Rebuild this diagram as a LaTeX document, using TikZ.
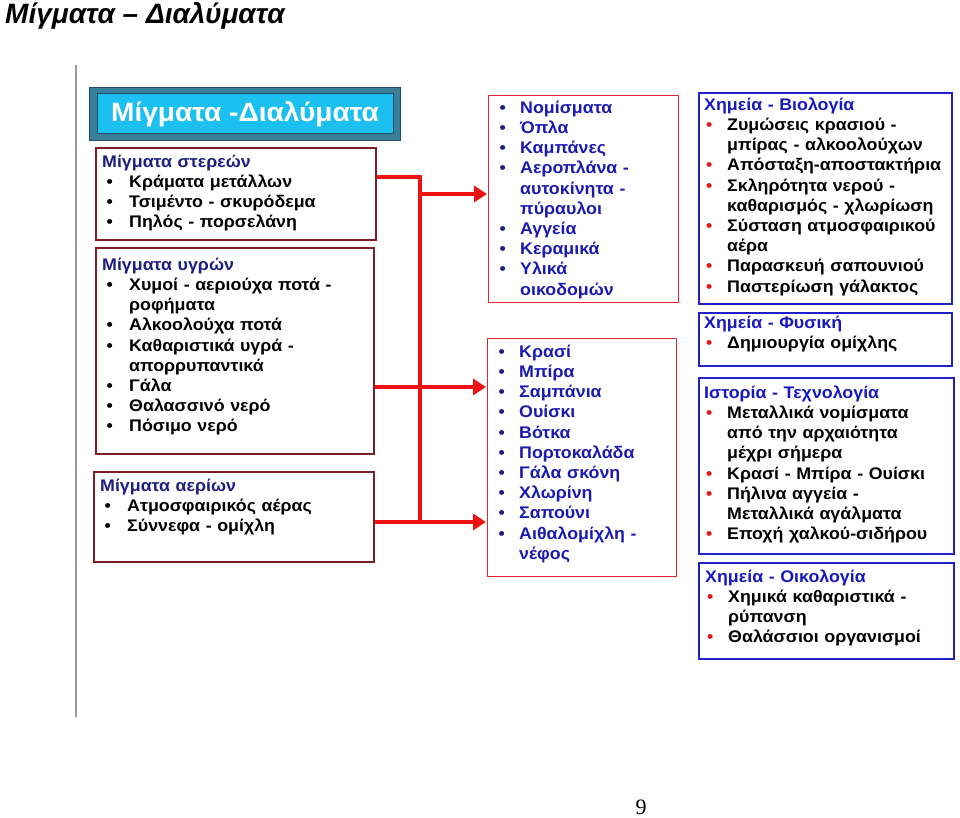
\documentclass[tikz,border=0pt]{standalone}
\usepackage{fontspec}
\setmainfont{Liberation Sans}
\newfontfamily\diagfont[FakeStretch=1.06]{Liberation Sans}
\newfontfamily\pagefont{Liberation Serif}
\usetikzlibrary{arrows.meta,positioning}

\definecolor{boxmaroon}{HTML}{7A1E24}
\definecolor{boxred}{HTML}{E0282C}
\definecolor{boxblue}{HTML}{2020C8}
\definecolor{headnavy}{HTML}{1E1E80}
\definecolor{itemblue}{HTML}{1A1AB0}
\definecolor{headblue}{HTML}{1818C0}
\definecolor{busred}{HTML}{EE1111}
\definecolor{dotred}{HTML}{E01818}
\definecolor{bannerteal}{HTML}{3A7F9A}
\definecolor{bannerdark}{HTML}{1F4F66}
\definecolor{bannercyan}{HTML}{1CC0F0}
\definecolor{rulegray}{HTML}{9A9A9A}

\newlength\bulletwd
\newlength\bulletsh
% one bulleted entry, continuation lines hang under the text
\newcommand{\itm}[2]{\noindent\hangindent=\bulletwd\hangafter=1\strut
  \makebox[\bulletwd][l]{\hspace{\bulletsh}\textcolor{#1}{\textbullet}}#2\par}
\newcommand{\hd}[2]{\noindent\strut\textcolor{#1}{#2}\par}

\tikzset{
  leftbox/.style={draw=boxmaroon, line width=1.6pt, anchor=north west, inner sep=0pt},
  midbox/.style={draw=boxred, line width=1.3pt, anchor=north west, inner sep=0pt},
  rightbox/.style={draw=boxblue, line width=1.8pt, anchor=north west, inner sep=0pt},
  boxtext/.style n args={2}{anchor=north west, inner sep=0pt, align=left, text width=250pt,
    font=\diagfont\bfseries\fontsize{16.8}{20.2}\selectfont,
    execute at begin node={\setlength\bulletwd{#1}\setlength\bulletsh{#2}}},
  bus/.style={draw=busred, line width=3.6pt, line join=miter},
  busarrow/.style={bus, -{Triangle[length=13pt,width=16pt]}, shorten >=1pt},
}

\begin{document}
\begin{tikzpicture}[x=1pt,y=-1pt]
\useasboundingbox (0,0) rectangle (960,818);

% heading and page rule
\node[anchor=base west, inner sep=0pt, font=\bfseries\itshape\fontsize{28}{28}\selectfont]
  (doctitle) at (5,24) {Μίγματα – Διαλύματα};
\draw[rulegray, line width=2.4pt] (76,65) -- (76,717);

% banner
\node[draw=bannerdark, fill=bannerteal, line width=1pt, anchor=north west,
  minimum width=311pt, minimum height=53pt] (banner) at (89,87) {};
\node[draw=bannerdark, fill=bannercyan, line width=1pt, minimum width=296pt,
  minimum height=40pt, text=white, font=\diagfont\bfseries\fontsize{26.5}{26.5}\selectfont]
  (bannerin) at (banner.center) {Μίγματα -Διαλύματα};

% left column: kinds of mixtures
\node[leftbox, minimum width=280pt, minimum height=92pt] (solid) at (95,147) {};
\node[boxtext={27pt}{4.5pt}] (solidtxt) at (102,152.9) {%
  \hd{headnavy}{Μίγματα στερεών}
  \itm{black}{Κράματα μετάλλων}
  \itm{black}{Τσιμέντο - σκυρόδεμα}
  \itm{black}{Πηλός - πορσελάνη}};

\node[leftbox, minimum width=278pt, minimum height=206pt] (liquid) at (95,247) {};
\node[boxtext={27pt}{4.5pt}] (liquidtxt) at (102,255.9) {%
  \hd{headnavy}{Μίγματα υγρών}
  \itm{black}{Χυμοί - αεριούχα ποτά -\newline ροφήματα}
  \itm{black}{Αλκοολούχα ποτά}
  \itm{black}{Καθαριστικά υγρά -\newline απορρυπαντικά}
  \itm{black}{Γάλα}
  \itm{black}{Θαλασσινό νερό}
  \itm{black}{Πόσιμο νερό}};

\node[leftbox, minimum width=280pt, minimum height=90pt] (gas) at (93,471) {};
\node[boxtext={27pt}{4.5pt}] (gastxt) at (100,476.9) {%
  \hd{headnavy}{Μίγματα αερίων}
  \itm{black}{Ατμοσφαιρικός αέρας}
  \itm{black}{Σύννεφα - ομίχλη}};

% middle column: examples
\node[midbox, minimum width=190pt, minimum height=207pt] (metals) at (488,95) {};
\node[boxtext={24pt}{3.3pt}, text=itemblue] (metalstxt) at (496,98.9) {%
  \itm{headnavy}{Νομίσματα}
  \itm{headnavy}{Όπλα}
  \itm{headnavy}{Καμπάνες}
  \itm{headnavy}{Αεροπλάνα -\newline αυτοκίνητα -\newline πύραυλοι}
  \itm{headnavy}{Αγγεία}
  \itm{headnavy}{Κεραμικά}
  \itm{headnavy}{Υλικά\newline οικοδομών}};

\node[midbox, minimum width=189pt, minimum height=238pt] (drinks) at (487,338) {};
\node[boxtext={24pt}{3.3pt}, text=itemblue] (drinkstxt) at (495,342.9) {%
  \itm{headnavy}{Κρασί}
  \itm{headnavy}{Μπίρα}
  \itm{headnavy}{Σαμπάνια}
  \itm{headnavy}{Ουίσκι}
  \itm{headnavy}{Βότκα}
  \itm{headnavy}{Πορτοκαλάδα}
  \itm{headnavy}{Γάλα σκόνη}
  \itm{headnavy}{Χλωρίνη}
  \itm{headnavy}{Σαπούνι}
  \itm{headnavy}{Αιθαλομίχλη -\newline νέφος}};

% right column: links to other subjects
\node[rightbox, minimum width=253pt, minimum height=211pt] (biology) at (698,92) {};
\node[boxtext={23pt}{1.8pt}] (biologytxt) at (704,95.9) {%
  \hd{headblue}{Χημεία - Βιολογία}
  \itm{dotred}{Ζυμώσεις κρασιού -\newline μπίρας - αλκοολούχων}
  \itm{dotred}{Απόσταξη-αποστακτήρια}
  \itm{dotred}{Σκληρότητα νερού -\newline καθαρισμός - χλωρίωση}
  \itm{dotred}{Σύσταση ατμοσφαιρικού\newline αέρα}
  \itm{dotred}{Παρασκευή σαπουνιού}
  \itm{dotred}{Παστερίωση γάλακτος}};

\node[rightbox, minimum width=253pt, minimum height=53pt] (physics) at (698,312) {};
\node[boxtext={23pt}{1.8pt}] (physicstxt) at (704,313.9) {%
  \hd{headblue}{Χημεία - Φυσική}
  \itm{dotred}{Δημιουργία ομίχλης}};

\node[rightbox, minimum width=255pt, minimum height=176pt] (history) at (698,377) {};
\node[boxtext={23pt}{1.8pt}] (historytxt) at (704,383.9) {%
  \hd{headblue}{Ιστορία - Τεχνολογία}
  \itm{dotred}{Μεταλλικά νομίσματα\newline από την αρχαιότητα\newline μέχρι σήμερα}
  \itm{dotred}{Κρασί - Μπίρα - Ουίσκι}
  \itm{dotred}{Πήλινα αγγεία -\newline Μεταλλικά αγάλματα}
  \itm{dotred}{Εποχή χαλκού-σιδήρου}};

\node[rightbox, minimum width=255pt, minimum height=96pt] (ecology) at (698,562) {};
\node[boxtext={23pt}{1.8pt}] (ecologytxt) at (705,567.9) {%
  \hd{headblue}{Χημεία - Οικολογία}
  \itm{dotred}{Χημικά καθαριστικά -\newline ρύπανση}
  \itm{dotred}{Θαλάσσιοι οργανισμοί}};

% red connectors
\coordinate (busTop) at (420,177);
\coordinate (busMid) at (420,387);
\coordinate (busBot) at (420,522);
\coordinate (busArr) at (420,194);
\draw[bus] (solid.east |- busTop) -- (busTop) -- (busBot) -- (gas.east |- busBot);
\draw[bus] (liquid.east |- busMid) -- (busMid);
\draw[busarrow] (busArr) -- (metals.west |- busArr);
\draw[busarrow] (busMid) -- (drinks.west |- busMid);
\draw[busarrow] (busBot) -- (drinks.west |- busBot);

% page number
\node[anchor=base, inner sep=0pt, font=\pagefont\fontsize{22}{22}\selectfont]
  (pagenum) at (641,814.5) {9};
\end{tikzpicture}
\end{document}
